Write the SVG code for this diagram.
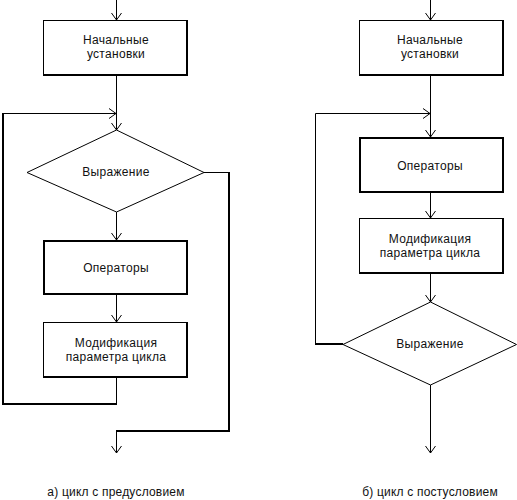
<svg xmlns="http://www.w3.org/2000/svg" width="517" height="500" viewBox="0 0 517 500">
<style>
.box{fill:#fff;stroke:#000;stroke-width:1}
.bold{fill:none;stroke:#000;stroke-width:2}
.thin{fill:none;stroke:#000;stroke-width:1}
.thick{fill:none;stroke:#000;stroke-width:2}
text{font-family:"Liberation Sans",Arial,sans-serif;font-size:12px;letter-spacing:0.3px;fill:#111;text-anchor:middle}
.cap{font-size:12px;letter-spacing:0.2px}
</style>
<defs>
<marker id="arr" markerUnits="userSpaceOnUse" markerWidth="12" markerHeight="12" viewBox="-8 -6 10 12" refX="0" refY="0" orient="auto" overflow="visible">
<path d="M-7,-5 L0,0 L-7,5" fill="none" stroke="#000" stroke-width="1"/>
</marker>
</defs>
<rect width="517" height="500" fill="#fff"/>
<g id="connectors">
<path class="thin" d="M116.5,0 V20" marker-end="url(#arr)"/>
<path class="thin" d="M116.5,75 V130" marker-end="url(#arr)"/>
<path class="thin" d="M116.5,377 V404"/>
<path class="thick" d="M117,404 H3 V113"/>
<path class="thin" d="M3,113.5 H116" marker-end="url(#arr)"/>
<path class="thin" d="M116.5,212 V240" marker-end="url(#arr)"/>
<path class="thin" d="M116.5,294 V322" marker-end="url(#arr)"/>
<path class="thin" d="M204,172.5 H229"/>
<path class="thick" d="M229,172 V431 H116"/>
<path class="thin" d="M116.5,431 V453" marker-end="url(#arr)"/>

<path class="thin" d="M430.5,0 V20" marker-end="url(#arr)"/>
<path class="thin" d="M430.5,75 V137" marker-end="url(#arr)"/>
<path class="thin" d="M315.5,344 V113.5 H430" marker-end="url(#arr)"/>
<path class="thick" d="M343,344 H315"/>
<path class="thin" d="M430.5,192 V218" marker-end="url(#arr)"/>
<path class="thin" d="M430.5,273 V302" marker-end="url(#arr)"/>
<path class="thin" d="M430.5,385 V453" marker-end="url(#arr)"/>
</g>
<g id="a-init">
<rect class="box" x="43.5" y="20.5" width="143" height="54"/>
<path class="thick" d="M187,20 V75 H43"/>
<text x="116" y="44">Начальные</text>
<text x="116" y="58">установки</text>
</g>
<g id="a-cond">
<polygon class="box" points="116.5,130 27,172.5 116.5,212 204,172.5"/>
<text x="116" y="176">Выражение</text>
</g>
<g id="a-ops">
<rect class="bold" x="44" y="241" width="143" height="53" fill="#fff"/>
<text x="116" y="272">Операторы</text>
</g>
<g id="a-mod">
<rect class="box" x="43.5" y="322.5" width="143" height="54"/>
<path class="thick" d="M187,322 V377 H43"/>
<text x="116" y="347">Модификация</text>
<text x="116" y="361">параметра цикла</text>
</g>
<g id="b-init">
<rect class="box" x="359.5" y="20.5" width="143" height="54"/>
<path class="thick" d="M503,20 V75 H359"/>
<text x="430" y="44">Начальные</text>
<text x="430" y="58">установки</text>
</g>
<g id="b-ops">
<rect class="bold" x="360" y="138" width="143" height="54" fill="#fff"/>
<text x="430" y="170">Операторы</text>
</g>
<g id="b-mod">
<rect class="box" x="359.5" y="218.5" width="143" height="54"/>
<path class="thick" d="M503,218 V273 H359"/>
<text x="430" y="243">Модификация</text>
<text x="430" y="257">параметра цикла</text>
</g>
<g id="b-cond">
<polygon class="box" points="430.5,302 343,344.5 430.5,385 516.5,344.5"/>
<text x="430" y="348">Выражение</text>
</g>
<g id="captions">
<text class="cap" x="116" y="496">а) цикл с предусловием</text>
<text class="cap" x="430" y="496">б) цикл с постусловием</text>
</g>
</svg>
